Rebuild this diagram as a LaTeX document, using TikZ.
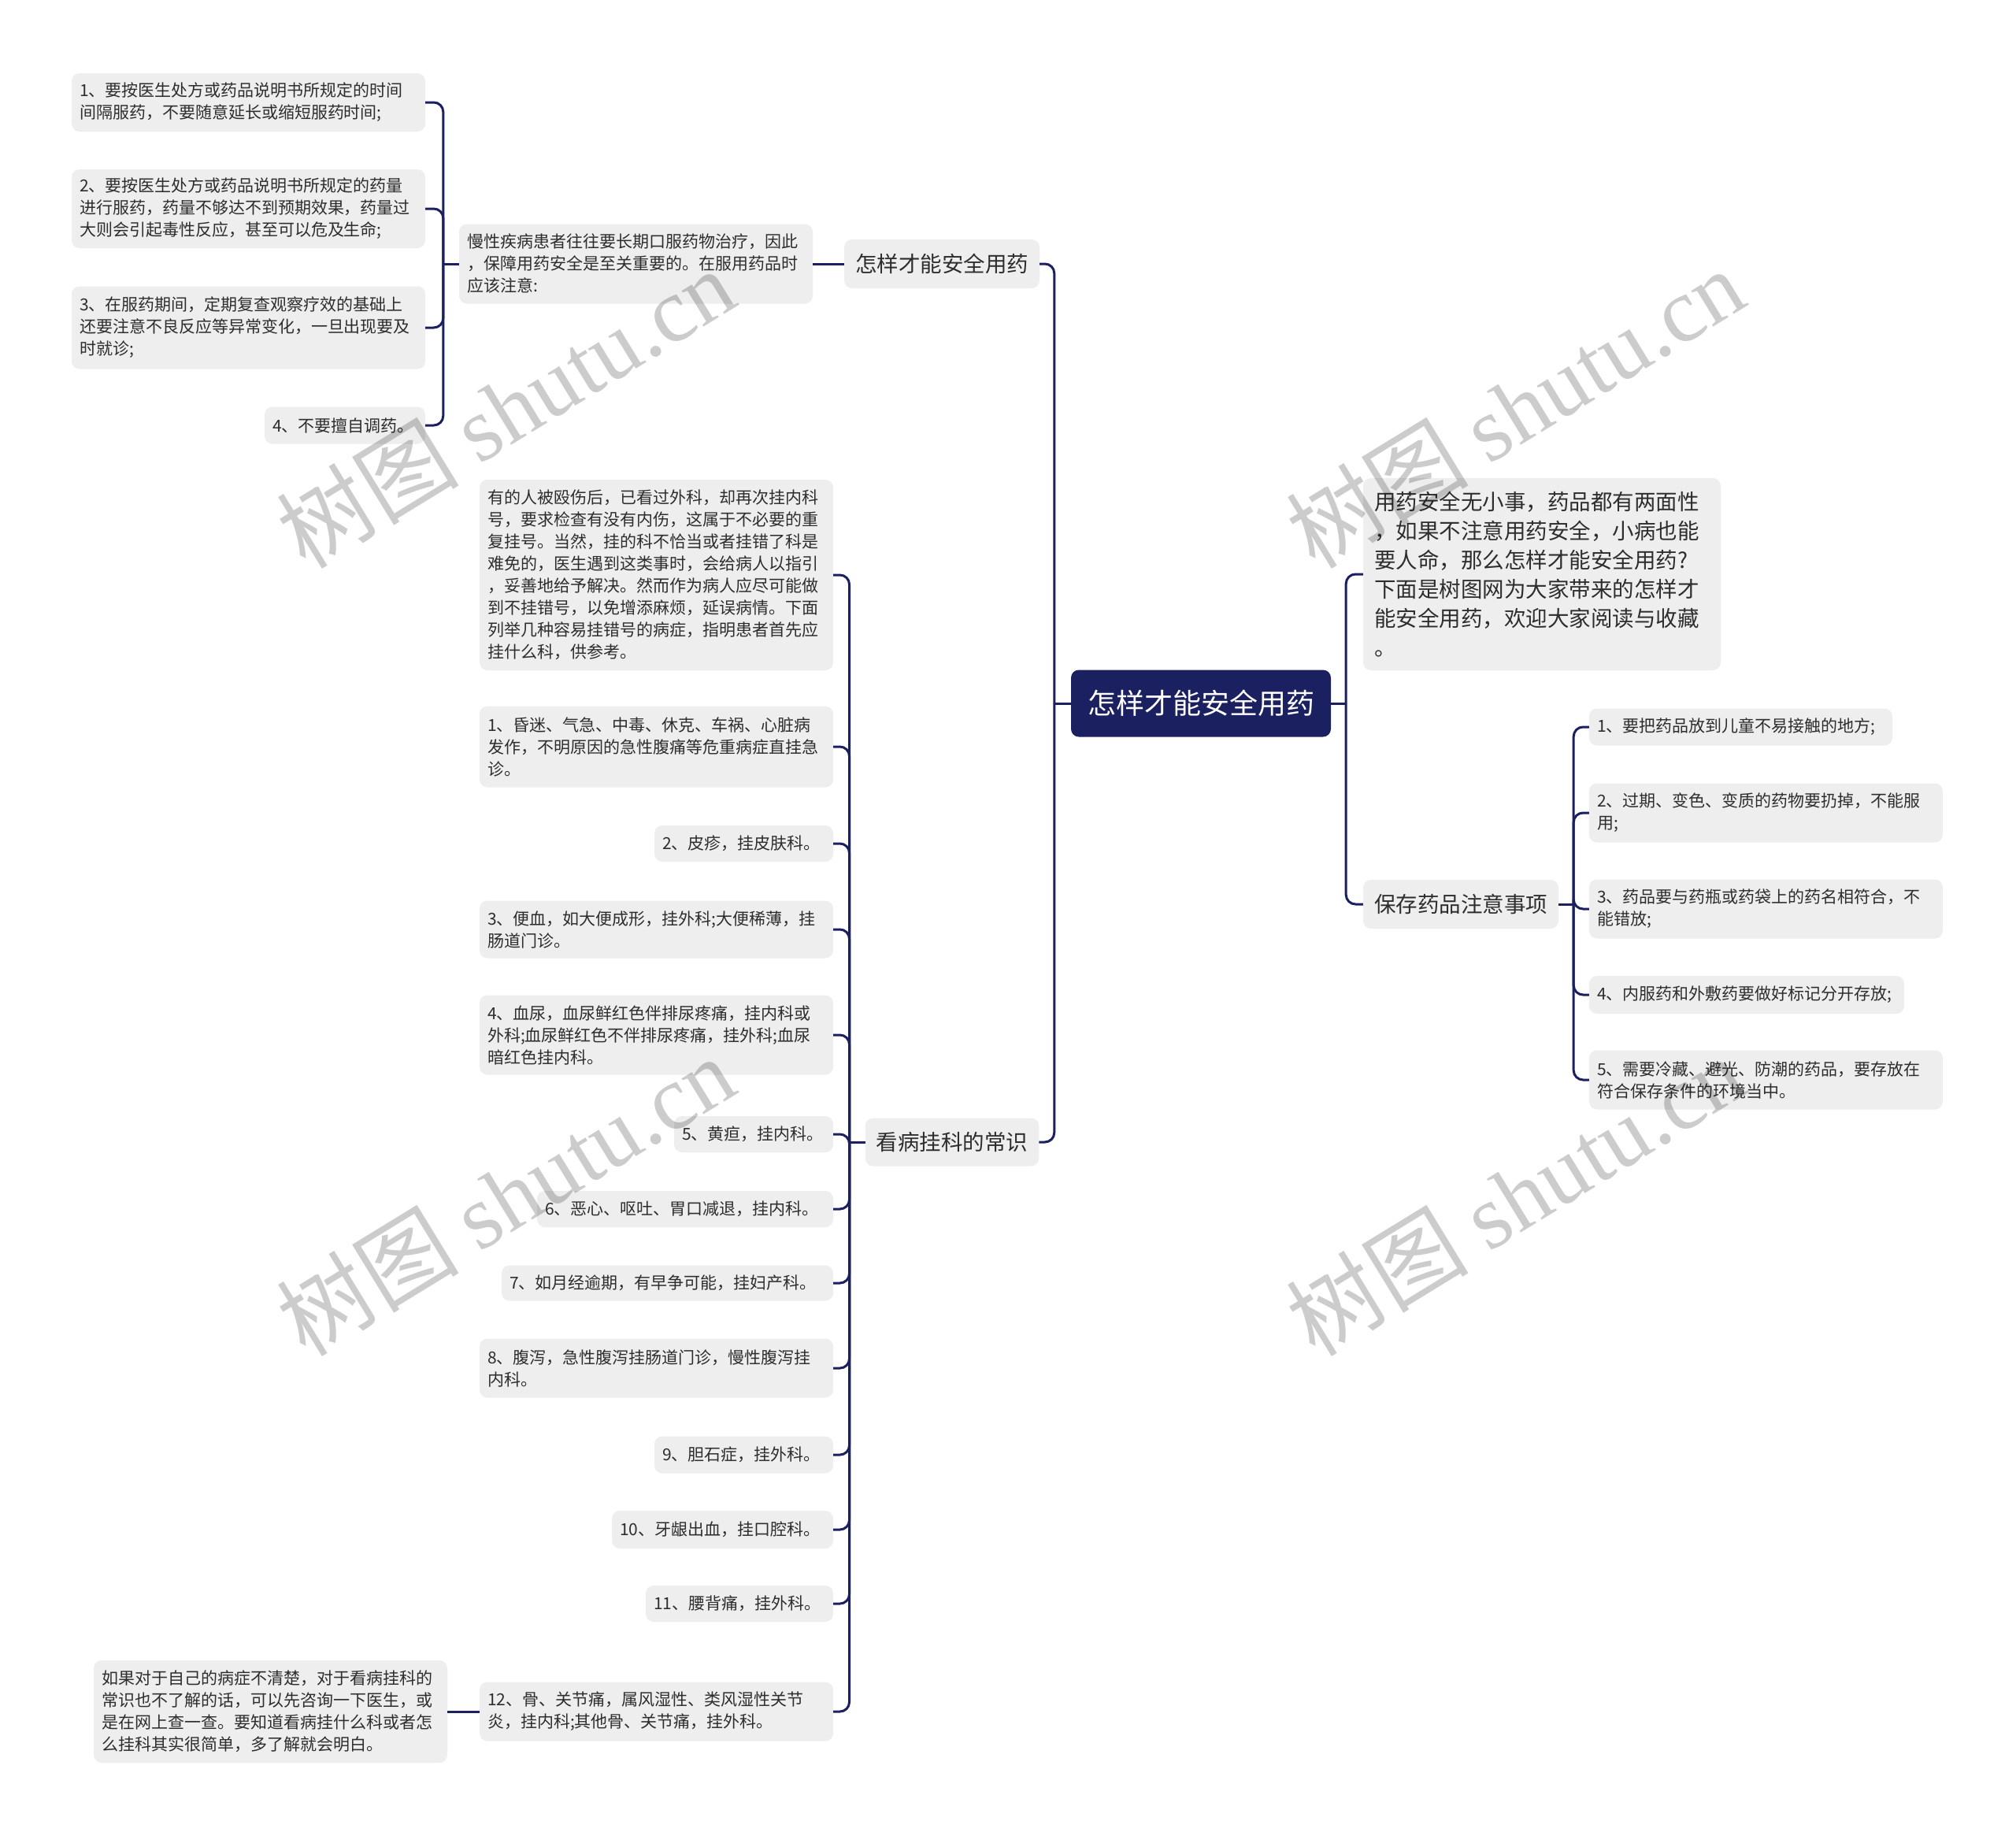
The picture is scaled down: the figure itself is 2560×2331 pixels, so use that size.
\documentclass[tikz,border=0pt]{standalone}
\usepackage{fontspec}
\setmainfont{Noto Sans CJK SC}
\newfontfamily\wmserif{Liberation Serif}
\definecolor{navy}{RGB}{27,32,96}
\definecolor{boxfill}{RGB}{238,238,238}
\definecolor{txt}{RGB}{45,45,45}
\tikzset{
  box/.style={rectangle, rounded corners=10pt, fill=boxfill, text=txt, align=left,
    inner xsep=10pt, inner ysep=0pt, font=\fontsize{21}{28}\selectfont},
  bigbox/.style={box, inner xsep=14pt, font=\fontsize{27.5}{37}\selectfont},
  rootbox/.style={rectangle, rounded corners=10pt, fill=navy, text=white,
    inner xsep=10pt, inner ysep=0pt, font=\fontsize{36}{44}\selectfont},
  conn/.style={draw=navy, line width=3pt, rounded corners=12pt},
  wm/.style={text=black, text opacity=0.2, font=\fontsize{116}{130}\selectfont, inner sep=0pt}
}
\begin{document}
\begin{tikzpicture}[x=1pt,y=-1pt]
\useasboundingbox (0,0) rectangle (2560,2331);
\fill[white] (0,0) rectangle (2560,2331);

% root
\node[rootbox, minimum width=330pt, minimum height=85pt] (root) at (1525,893) {怎样才能安全用药};

% branch 1
\node[bigbox, minimum width=246pt, minimum height=62pt] (b1) at (1196,335) {怎样才能安全用药};
\node[box, text width=429pt, minimum height=101pt] (b1c) at (807.5,335) {慢性疾病患者往往要长期口服药物治疗，因此\\，保障用药安全是至关重要的。在服用药品时\\应该注意:};
\node[box, text width=429pt, minimum height=74pt] (c1) at (315.5,130) {1、要按医生处方或药品说明书所规定的时间\\间隔服药，不要随意延长或缩短服药时间;};
\node[box, text width=429pt, minimum height=100pt] (c2) at (315.5,265) {2、要按医生处方或药品说明书所规定的药量\\进行服药，药量不够达不到预期效果，药量过\\大则会引起毒性反应，甚至可以危及生命;};
\node[box, text width=429pt, minimum height=105pt] (c3) at (315.5,416) {3、在服药期间，定期复查观察疗效的基础上\\还要注意不良反应等异常变化，一旦出现要及\\时就诊;};
\node[box, text width=184pt, minimum height=47pt] (c4) at (438,540) {4、不要擅自调药。};

% branch 2
\node[bigbox, minimum width=220pt, minimum height=61pt] (b2) at (1209,1450) {看病挂科的常识};
\node[box, text width=429pt, minimum height=242pt] (n0) at (833.5,730) {有的人被殴伤后，已看过外科，却再次挂内科\\号，要求检查有没有内伤，这属于不必要的重\\复挂号。当然，挂的科不恰当或者挂错了科是\\难免的，医生遇到这类事时，会给病人以指引\\，妥善地给予解决。然而作为病人应尽可能做\\到不挂错号，以免增添麻烦，延误病情。下面\\列举几种容易挂错号的病症，指明患者首先应\\挂什么科，供参考。};
\node[box, text width=429pt, minimum height=103pt] (n1) at (833.5,948) {1、昏迷、气急、中毒、休克、车祸、心脏病\\发作，不明原因的急性腹痛等危重病症直挂急\\诊。};
\node[box, text width=207pt, minimum height=46pt] (n2) at (944.5,1071) {2、皮疹，挂皮肤科。};
\node[box, text width=429pt, minimum height=73pt] (n3) at (833.5,1180) {3、便血，如大便成形，挂外科;大便稀薄，挂\\肠道门诊。};
\node[box, text width=429pt, minimum height=101pt] (n4) at (833.5,1314) {4、血尿，血尿鲜红色伴排尿疼痛，挂内科或\\外科;血尿鲜红色不伴排尿疼痛，挂外科;血尿\\暗红色挂内科。};
\node[box, text width=182pt, minimum height=46pt] (n5) at (957,1440) {5、黄疸，挂内科。};
\node[box, text width=356pt, minimum height=46pt] (n6) at (870,1535) {6、恶心、呕吐、胃口减退，挂内科。};
\node[box, text width=401pt, minimum height=45pt] (n7) at (847.5,1629) {7、如月经逾期，有早争可能，挂妇产科。};
\node[box, text width=429pt, minimum height=75pt] (n8) at (833.5,1737) {8、腹泻，急性腹泻挂肠道门诊，慢性腹泻挂\\内科。};
\node[box, text width=207pt, minimum height=47pt] (n9) at (944.5,1847) {9、胆石症，挂外科。};
\node[box, text width=261pt, minimum height=48pt] (n10) at (917.5,1942) {10、牙龈出血，挂口腔科。};
\node[box, text width=218pt, minimum height=46pt] (n11) at (939,2036) {11、腰背痛，挂外科。};
\node[box, text width=429pt, minimum height=75pt] (n12) at (833.5,2173) {12、骨、关节痛，属风湿性、类风湿性关节\\炎，挂内科;其他骨、关节痛，挂外科。};
\node[box, text width=429pt, minimum height=130pt] (n12c) at (343.5,2173) {如果对于自己的病症不清楚，对于看病挂科的\\常识也不了解的话，可以先咨询一下医生，或\\是在网上查一查。要知道看病挂什么科或者怎\\么挂科其实很简单，多了解就会明白。};

% branch 3
\node[bigbox, text width=426pt, minimum height=244pt] (b3) at (1958,729) {用药安全无小事，药品都有两面性\\，如果不注意用药安全，小病也能\\要人命，那么怎样才能安全用药?\\下面是树图网为大家带来的怎样才\\能安全用药，欢迎大家阅读与收藏\\。};

% branch 4
\node[bigbox, minimum width=248pt, minimum height=62pt] (b4) at (1855,1148) {保存药品注意事项};
\node[box, text width=365pt, minimum height=47pt] (r1) at (2210.5,923) {1、要把药品放到儿童不易接触的地方;};
\node[box, text width=429pt, minimum height=75pt] (r2) at (2242.5,1032) {2、过期、变色、变质的药物要扔掉，不能服\\用;};
\node[box, text width=429pt, minimum height=75pt] (r3) at (2242.5,1154) {3、药品要与药瓶或药袋上的药名相符合，不\\能错放;};
\node[box, text width=380pt, minimum height=48pt] (r4) at (2218,1263) {4、内服药和外敷药要做好标记分开存放;};
\node[box, text width=429pt, minimum height=75pt] (r5) at (2242.5,1371) {5、需要冷藏、避光、防潮的药品，要存放在\\符合保存条件的环境当中。};

% junction points
\path (root.west) ++(-21,0) coordinate (jl);
\path (root.east) ++(19,0) coordinate (jr);
\path (b1c.west) ++(-20,0) coordinate (j1);
\path (b2.west) ++(-20,0) coordinate (j2);
\path (b4.east) ++(19,0) coordinate (j4);

% connectors
\draw[conn] (root.west) -- (jl);
\draw[conn] (root.east) -- (jr);
\draw[conn] (jl) |- (b1.east);
\draw[conn] (jl) |- (b2.east);
\draw[conn] (jr) |- (b3.west);
\draw[conn] (jr) |- (b4.west);
\draw[conn] (b1.west) -- (b1c.east);
\draw[conn] (b1c.west) -- (j1);
\foreach \c in {c1,c2,c3,c4}{\draw[conn] (j1) |- (\c.east);}
\draw[conn] (b2.west) -- (j2);
\foreach \c in {n0,n1,n2,n3,n4,n5,n6,n7,n8,n9,n10,n11,n12}{\draw[conn] (j2) |- (\c.east);}
\draw[conn] (b4.east) -- (j4);
\foreach \c in {r1,r2,r3,r4,r5}{\draw[conn] (j4) |- (\c.west);}
\draw[conn] (n12.west) -- (n12c.east);

% watermarks
\node[wm, rotate=31.5] (wm1) at (642,518) {树图 {\wmserif shutu.cn}};
\node[wm, rotate=31.5] (wm2) at (1924,518) {树图 {\wmserif shutu.cn}};
\node[wm, rotate=31.5] (wm3) at (642,1518) {树图 {\wmserif shutu.cn}};
\node[wm, rotate=31.5] (wm4) at (1924,1518) {树图 {\wmserif shutu.cn}};
\end{tikzpicture}
\end{document}
